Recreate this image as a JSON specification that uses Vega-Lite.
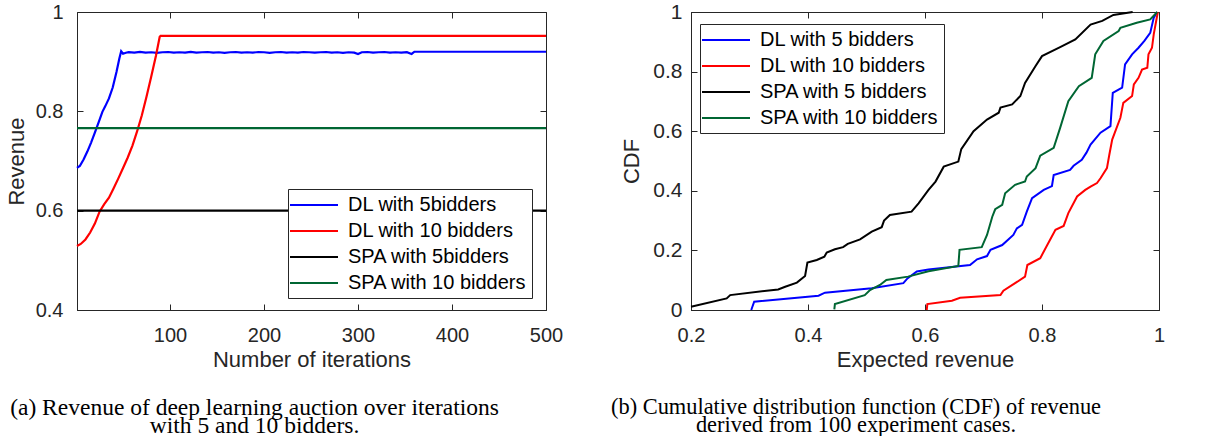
{
  "$schema": "https://vega.github.io/schema/vega-lite/v6.json",
  "background": "white",
  "padding": {"left": 4, "top": 0, "right": 5, "bottom": 0},
  "bounds": "flush",
  "spacing": 145,
  "config": {
    "view": {"stroke": "#262626", "strokeWidth": 1},
    "axis": {
      "domainColor": "#262626", "tickColor": "#262626", "labelColor": "#262626", "titleColor": "#262626",
      "labelFont": "Liberation Sans", "titleFont": "Liberation Sans", "labelFontSize": 20, "titleFontSize": 22,
      "titleFontWeight": "normal", "grid": false, "tickSize": -6, "domainWidth": 1, "tickWidth": 1, "labelFlush": false
    },
    "legend": {
      "labelFont": "Liberation Sans", "labelFontSize": 20, "labelColor": "#000000", "symbolType": "M-2.4,0L2.4,0",
      "symbolSize": 400, "symbolStrokeWidth": 2, "symbolOffset": 10, "strokeColor": "#262626", "fillColor": "white",
      "padding": 5, "rowPadding": 5, "labelOffset": 23, "orient": "none", "labelLimit": 400
    },
    "title": {"font": "Liberation Serif", "fontSize": 23.5, "fontWeight": "normal", "color": "#000000", "orient": "bottom", "lineHeight": 17.5, "anchor": "middle"}
  },
  "resolve": {"scale": {"color": "independent"}, "legend": {"color": "independent"}},
  "hconcat": [
    {
      "width": 469, "height": 298,
      "title": {"text": ["(a) Revenue of deep learning auction over iterations", "with 5 and 10 bidders."], "dx": -57, "offset": 26},
      "data": {"values": [
        {"series": "DL with 5bidders", "iteration": 1, "revenue": 0.686},
        {"series": "DL with 5bidders", "iteration": 4, "revenue": 0.690},
        {"series": "DL with 5bidders", "iteration": 8, "revenue": 0.703},
        {"series": "DL with 5bidders", "iteration": 12, "revenue": 0.719},
        {"series": "DL with 5bidders", "iteration": 16, "revenue": 0.737},
        {"series": "DL with 5bidders", "iteration": 20, "revenue": 0.757},
        {"series": "DL with 5bidders", "iteration": 24, "revenue": 0.778},
        {"series": "DL with 5bidders", "iteration": 28, "revenue": 0.799},
        {"series": "DL with 5bidders", "iteration": 31, "revenue": 0.810},
        {"series": "DL with 5bidders", "iteration": 35, "revenue": 0.826},
        {"series": "DL with 5bidders", "iteration": 39, "revenue": 0.848},
        {"series": "DL with 5bidders", "iteration": 43, "revenue": 0.879},
        {"series": "DL with 5bidders", "iteration": 46, "revenue": 0.906},
        {"series": "DL with 5bidders", "iteration": 48, "revenue": 0.921},
        {"series": "DL with 5bidders", "iteration": 50, "revenue": 0.916},
        {"series": "DL with 5bidders", "iteration": 53, "revenue": 0.918},
        {"series": "DL with 5bidders", "iteration": 56, "revenue": 0.9190},
        {"series": "DL with 5bidders", "iteration": 62, "revenue": 0.9182},
        {"series": "DL with 5bidders", "iteration": 68, "revenue": 0.9195},
        {"series": "DL with 5bidders", "iteration": 74, "revenue": 0.9182},
        {"series": "DL with 5bidders", "iteration": 80, "revenue": 0.9190},
        {"series": "DL with 5bidders", "iteration": 86, "revenue": 0.9178},
        {"series": "DL with 5bidders", "iteration": 92, "revenue": 0.9190},
        {"series": "DL with 5bidders", "iteration": 98, "revenue": 0.9195},
        {"series": "DL with 5bidders", "iteration": 104, "revenue": 0.9182},
        {"series": "DL with 5bidders", "iteration": 110, "revenue": 0.9190},
        {"series": "DL with 5bidders", "iteration": 116, "revenue": 0.9182},
        {"series": "DL with 5bidders", "iteration": 122, "revenue": 0.9195},
        {"series": "DL with 5bidders", "iteration": 128, "revenue": 0.9182},
        {"series": "DL with 5bidders", "iteration": 134, "revenue": 0.9190},
        {"series": "DL with 5bidders", "iteration": 140, "revenue": 0.9195},
        {"series": "DL with 5bidders", "iteration": 146, "revenue": 0.9182},
        {"series": "DL with 5bidders", "iteration": 152, "revenue": 0.9190},
        {"series": "DL with 5bidders", "iteration": 158, "revenue": 0.9178},
        {"series": "DL with 5bidders", "iteration": 164, "revenue": 0.9190},
        {"series": "DL with 5bidders", "iteration": 170, "revenue": 0.9195},
        {"series": "DL with 5bidders", "iteration": 176, "revenue": 0.9182},
        {"series": "DL with 5bidders", "iteration": 182, "revenue": 0.9190},
        {"series": "DL with 5bidders", "iteration": 188, "revenue": 0.9182},
        {"series": "DL with 5bidders", "iteration": 194, "revenue": 0.9195},
        {"series": "DL with 5bidders", "iteration": 200, "revenue": 0.9190},
        {"series": "DL with 5bidders", "iteration": 206, "revenue": 0.9178},
        {"series": "DL with 5bidders", "iteration": 212, "revenue": 0.9190},
        {"series": "DL with 5bidders", "iteration": 218, "revenue": 0.9195},
        {"series": "DL with 5bidders", "iteration": 224, "revenue": 0.9182},
        {"series": "DL with 5bidders", "iteration": 230, "revenue": 0.9190},
        {"series": "DL with 5bidders", "iteration": 236, "revenue": 0.9182},
        {"series": "DL with 5bidders", "iteration": 242, "revenue": 0.9195},
        {"series": "DL with 5bidders", "iteration": 248, "revenue": 0.9190},
        {"series": "DL with 5bidders", "iteration": 254, "revenue": 0.9182},
        {"series": "DL with 5bidders", "iteration": 260, "revenue": 0.9190},
        {"series": "DL with 5bidders", "iteration": 266, "revenue": 0.9195},
        {"series": "DL with 5bidders", "iteration": 272, "revenue": 0.9182},
        {"series": "DL with 5bidders", "iteration": 278, "revenue": 0.9190},
        {"series": "DL with 5bidders", "iteration": 284, "revenue": 0.9178},
        {"series": "DL with 5bidders", "iteration": 290, "revenue": 0.9190},
        {"series": "DL with 5bidders", "iteration": 296, "revenue": 0.9182},
        {"series": "DL with 5bidders", "iteration": 300, "revenue": 0.9155},
        {"series": "DL with 5bidders", "iteration": 304, "revenue": 0.9190},
        {"series": "DL with 5bidders", "iteration": 310, "revenue": 0.9195},
        {"series": "DL with 5bidders", "iteration": 316, "revenue": 0.9182},
        {"series": "DL with 5bidders", "iteration": 322, "revenue": 0.9190},
        {"series": "DL with 5bidders", "iteration": 328, "revenue": 0.9195},
        {"series": "DL with 5bidders", "iteration": 334, "revenue": 0.9182},
        {"series": "DL with 5bidders", "iteration": 340, "revenue": 0.9190},
        {"series": "DL with 5bidders", "iteration": 346, "revenue": 0.9182},
        {"series": "DL with 5bidders", "iteration": 352, "revenue": 0.9190},
        {"series": "DL with 5bidders", "iteration": 357, "revenue": 0.9155},
        {"series": "DL with 5bidders", "iteration": 360, "revenue": 0.9200},
        {"series": "DL with 5bidders", "iteration": 500, "revenue": 0.9200},
        {"series": "DL with 10 bidders", "iteration": 1, "revenue": 0.529},
        {"series": "DL with 10 bidders", "iteration": 5, "revenue": 0.533},
        {"series": "DL with 10 bidders", "iteration": 10, "revenue": 0.542},
        {"series": "DL with 10 bidders", "iteration": 15, "revenue": 0.556},
        {"series": "DL with 10 bidders", "iteration": 20, "revenue": 0.574},
        {"series": "DL with 10 bidders", "iteration": 25, "revenue": 0.598},
        {"series": "DL with 10 bidders", "iteration": 30, "revenue": 0.613},
        {"series": "DL with 10 bidders", "iteration": 35, "revenue": 0.626},
        {"series": "DL with 10 bidders", "iteration": 40, "revenue": 0.645},
        {"series": "DL with 10 bidders", "iteration": 45, "revenue": 0.665},
        {"series": "DL with 10 bidders", "iteration": 50, "revenue": 0.686},
        {"series": "DL with 10 bidders", "iteration": 55, "revenue": 0.707},
        {"series": "DL with 10 bidders", "iteration": 60, "revenue": 0.731},
        {"series": "DL with 10 bidders", "iteration": 65, "revenue": 0.760},
        {"series": "DL with 10 bidders", "iteration": 70, "revenue": 0.792},
        {"series": "DL with 10 bidders", "iteration": 75, "revenue": 0.830},
        {"series": "DL with 10 bidders", "iteration": 80, "revenue": 0.870},
        {"series": "DL with 10 bidders", "iteration": 85, "revenue": 0.912},
        {"series": "DL with 10 bidders", "iteration": 89, "revenue": 0.950},
        {"series": "DL with 10 bidders", "iteration": 90, "revenue": 0.952},
        {"series": "DL with 10 bidders", "iteration": 500, "revenue": 0.952},
        {"series": "SPA with 5bidders", "iteration": 1, "revenue": 0.6},
        {"series": "SPA with 5bidders", "iteration": 500, "revenue": 0.6},
        {"series": "SPA with 10 bidders", "iteration": 1, "revenue": 0.766},
        {"series": "SPA with 10 bidders", "iteration": 500, "revenue": 0.766}
      ]},
      "layer": [
        {
          "mark": {"type": "line", "strokeWidth": 2.2},
          "encoding": {
            "x": {"field": "iteration", "type": "quantitative", "scale": {"domain": [1, 500], "nice": false},
                  "axis": {"orient": "bottom", "values": [100, 200, 300, 400, 500], "title": "Number of iterations", "labelPadding": 21, "titlePadding": 4}},
            "y": {"field": "revenue", "type": "quantitative", "scale": {"domain": [0.4, 1], "nice": false, "zero": false},
                  "axis": {"orient": "left", "values": [0.4, 0.6, 0.8, 1], "format": "~g", "title": "Revenue", "labelPadding": 20, "titlePadding": 7}},
            "color": {"field": "series", "type": "nominal",
                      "scale": {"domain": ["DL with 5bidders", "DL with 10 bidders", "SPA with 5bidders", "SPA with 10 bidders"], "range": ["#0000ff", "#ff0000", "#000000", "#006633"]},
                      "legend": {"title": null, "legendX": 211, "legendY": 177}}
          }
        },
        {
          "mark": {"type": "point", "opacity": 0},
          "encoding": {
            "x": {"field": "iteration", "type": "quantitative", "axis": {"orient": "top", "values": [100, 200, 300, 400, 500], "labels": false, "title": null, "domain": false}},
            "y": {"field": "revenue", "type": "quantitative", "axis": {"orient": "right", "values": [0.4, 0.6, 0.8, 1], "labels": false, "title": null, "domain": false}}
          }
        }
      ],
      "resolve": {"axis": {"x": "independent", "y": "independent"}}
    },
    {
      "width": 468, "height": 298,
      "title": {"text": ["(b) Cumulative distribution function (CDF) of revenue", "derived from 100 experiment cases."], "dx": -69, "offset": 26, "fontSize": 22.4},
      "data": {"values": [
        {"series": "DL with 5 bidders", "revenue": 0.303, "cdf": 0.0},
        {"series": "DL with 5 bidders", "revenue": 0.308, "cdf": 0.028},
        {"series": "DL with 5 bidders", "revenue": 0.418, "cdf": 0.048},
        {"series": "DL with 5 bidders", "revenue": 0.429, "cdf": 0.058},
        {"series": "DL with 5 bidders", "revenue": 0.509, "cdf": 0.073},
        {"series": "DL with 5 bidders", "revenue": 0.563, "cdf": 0.090},
        {"series": "DL with 5 bidders", "revenue": 0.570, "cdf": 0.106},
        {"series": "DL with 5 bidders", "revenue": 0.586, "cdf": 0.129},
        {"series": "DL with 5 bidders", "revenue": 0.606, "cdf": 0.136},
        {"series": "DL with 5 bidders", "revenue": 0.677, "cdf": 0.151},
        {"series": "DL with 5 bidders", "revenue": 0.689, "cdf": 0.170},
        {"series": "DL with 5 bidders", "revenue": 0.706, "cdf": 0.181},
        {"series": "DL with 5 bidders", "revenue": 0.712, "cdf": 0.202},
        {"series": "DL with 5 bidders", "revenue": 0.732, "cdf": 0.218},
        {"series": "DL with 5 bidders", "revenue": 0.751, "cdf": 0.252},
        {"series": "DL with 5 bidders", "revenue": 0.757, "cdf": 0.274},
        {"series": "DL with 5 bidders", "revenue": 0.766, "cdf": 0.286},
        {"series": "DL with 5 bidders", "revenue": 0.774, "cdf": 0.330},
        {"series": "DL with 5 bidders", "revenue": 0.783, "cdf": 0.375},
        {"series": "DL with 5 bidders", "revenue": 0.803, "cdf": 0.403},
        {"series": "DL with 5 bidders", "revenue": 0.817, "cdf": 0.416},
        {"series": "DL with 5 bidders", "revenue": 0.820, "cdf": 0.453},
        {"series": "DL with 5 bidders", "revenue": 0.848, "cdf": 0.470},
        {"series": "DL with 5 bidders", "revenue": 0.854, "cdf": 0.484},
        {"series": "DL with 5 bidders", "revenue": 0.868, "cdf": 0.504},
        {"series": "DL with 5 bidders", "revenue": 0.876, "cdf": 0.528},
        {"series": "DL with 5 bidders", "revenue": 0.883, "cdf": 0.555},
        {"series": "DL with 5 bidders", "revenue": 0.900, "cdf": 0.595},
        {"series": "DL with 5 bidders", "revenue": 0.917, "cdf": 0.617},
        {"series": "DL with 5 bidders", "revenue": 0.921, "cdf": 0.729},
        {"series": "DL with 5 bidders", "revenue": 0.937, "cdf": 0.746},
        {"series": "DL with 5 bidders", "revenue": 0.942, "cdf": 0.824},
        {"series": "DL with 5 bidders", "revenue": 0.954, "cdf": 0.858},
        {"series": "DL with 5 bidders", "revenue": 0.965, "cdf": 0.880},
        {"series": "DL with 5 bidders", "revenue": 0.975, "cdf": 0.903},
        {"series": "DL with 5 bidders", "revenue": 0.985, "cdf": 0.930},
        {"series": "DL with 5 bidders", "revenue": 0.991, "cdf": 0.981},
        {"series": "DL with 5 bidders", "revenue": 0.997, "cdf": 1.0},
        {"series": "DL with 10 bidders", "revenue": 0.603, "cdf": 0.0},
        {"series": "DL with 10 bidders", "revenue": 0.604, "cdf": 0.020},
        {"series": "DL with 10 bidders", "revenue": 0.646, "cdf": 0.031},
        {"series": "DL with 10 bidders", "revenue": 0.660, "cdf": 0.041},
        {"series": "DL with 10 bidders", "revenue": 0.729, "cdf": 0.050},
        {"series": "DL with 10 bidders", "revenue": 0.734, "cdf": 0.065},
        {"series": "DL with 10 bidders", "revenue": 0.754, "cdf": 0.090},
        {"series": "DL with 10 bidders", "revenue": 0.771, "cdf": 0.112},
        {"series": "DL with 10 bidders", "revenue": 0.775, "cdf": 0.151},
        {"series": "DL with 10 bidders", "revenue": 0.797, "cdf": 0.174},
        {"series": "DL with 10 bidders", "revenue": 0.809, "cdf": 0.218},
        {"series": "DL with 10 bidders", "revenue": 0.823, "cdf": 0.269},
        {"series": "DL with 10 bidders", "revenue": 0.837, "cdf": 0.282},
        {"series": "DL with 10 bidders", "revenue": 0.845, "cdf": 0.325},
        {"series": "DL with 10 bidders", "revenue": 0.860, "cdf": 0.381},
        {"series": "DL with 10 bidders", "revenue": 0.874, "cdf": 0.403},
        {"series": "DL with 10 bidders", "revenue": 0.883, "cdf": 0.414},
        {"series": "DL with 10 bidders", "revenue": 0.894, "cdf": 0.426},
        {"series": "DL with 10 bidders", "revenue": 0.900, "cdf": 0.442},
        {"series": "DL with 10 bidders", "revenue": 0.911, "cdf": 0.476},
        {"series": "DL with 10 bidders", "revenue": 0.915, "cdf": 0.520},
        {"series": "DL with 10 bidders", "revenue": 0.920, "cdf": 0.572},
        {"series": "DL with 10 bidders", "revenue": 0.934, "cdf": 0.645},
        {"series": "DL with 10 bidders", "revenue": 0.939, "cdf": 0.695},
        {"series": "DL with 10 bidders", "revenue": 0.954, "cdf": 0.718},
        {"series": "DL with 10 bidders", "revenue": 0.957, "cdf": 0.757},
        {"series": "DL with 10 bidders", "revenue": 0.965, "cdf": 0.779},
        {"series": "DL with 10 bidders", "revenue": 0.971, "cdf": 0.807},
        {"series": "DL with 10 bidders", "revenue": 0.980, "cdf": 0.813},
        {"series": "DL with 10 bidders", "revenue": 0.982, "cdf": 0.858},
        {"series": "DL with 10 bidders", "revenue": 0.988, "cdf": 0.880},
        {"series": "DL with 10 bidders", "revenue": 0.991, "cdf": 0.925},
        {"series": "DL with 10 bidders", "revenue": 0.998, "cdf": 1.0},
        {"series": "SPA with 5 bidders", "revenue": 0.200, "cdf": 0.011},
        {"series": "SPA with 5 bidders", "revenue": 0.261, "cdf": 0.039},
        {"series": "SPA with 5 bidders", "revenue": 0.267, "cdf": 0.050},
        {"series": "SPA with 5 bidders", "revenue": 0.349, "cdf": 0.069},
        {"series": "SPA with 5 bidders", "revenue": 0.361, "cdf": 0.078},
        {"series": "SPA with 5 bidders", "revenue": 0.381, "cdf": 0.092},
        {"series": "SPA with 5 bidders", "revenue": 0.395, "cdf": 0.114},
        {"series": "SPA with 5 bidders", "revenue": 0.399, "cdf": 0.159},
        {"series": "SPA with 5 bidders", "revenue": 0.415, "cdf": 0.168},
        {"series": "SPA with 5 bidders", "revenue": 0.428, "cdf": 0.179},
        {"series": "SPA with 5 bidders", "revenue": 0.432, "cdf": 0.193},
        {"series": "SPA with 5 bidders", "revenue": 0.446, "cdf": 0.204},
        {"series": "SPA with 5 bidders", "revenue": 0.460, "cdf": 0.211},
        {"series": "SPA with 5 bidders", "revenue": 0.468, "cdf": 0.222},
        {"series": "SPA with 5 bidders", "revenue": 0.489, "cdf": 0.237},
        {"series": "SPA with 5 bidders", "revenue": 0.509, "cdf": 0.263},
        {"series": "SPA with 5 bidders", "revenue": 0.526, "cdf": 0.278},
        {"series": "SPA with 5 bidders", "revenue": 0.530, "cdf": 0.300},
        {"series": "SPA with 5 bidders", "revenue": 0.540, "cdf": 0.319},
        {"series": "SPA with 5 bidders", "revenue": 0.577, "cdf": 0.330},
        {"series": "SPA with 5 bidders", "revenue": 0.589, "cdf": 0.358},
        {"series": "SPA with 5 bidders", "revenue": 0.606, "cdf": 0.403},
        {"series": "SPA with 5 bidders", "revenue": 0.618, "cdf": 0.431},
        {"series": "SPA with 5 bidders", "revenue": 0.632, "cdf": 0.481},
        {"series": "SPA with 5 bidders", "revenue": 0.657, "cdf": 0.498},
        {"series": "SPA with 5 bidders", "revenue": 0.662, "cdf": 0.540},
        {"series": "SPA with 5 bidders", "revenue": 0.683, "cdf": 0.600},
        {"series": "SPA with 5 bidders", "revenue": 0.706, "cdf": 0.639},
        {"series": "SPA with 5 bidders", "revenue": 0.726, "cdf": 0.662},
        {"series": "SPA with 5 bidders", "revenue": 0.729, "cdf": 0.679},
        {"series": "SPA with 5 bidders", "revenue": 0.749, "cdf": 0.690},
        {"series": "SPA with 5 bidders", "revenue": 0.763, "cdf": 0.718},
        {"series": "SPA with 5 bidders", "revenue": 0.771, "cdf": 0.762},
        {"series": "SPA with 5 bidders", "revenue": 0.789, "cdf": 0.819},
        {"series": "SPA with 5 bidders", "revenue": 0.800, "cdf": 0.852},
        {"series": "SPA with 5 bidders", "revenue": 0.831, "cdf": 0.882},
        {"series": "SPA with 5 bidders", "revenue": 0.857, "cdf": 0.908},
        {"series": "SPA with 5 bidders", "revenue": 0.883, "cdf": 0.958},
        {"series": "SPA with 5 bidders", "revenue": 0.903, "cdf": 0.970},
        {"series": "SPA with 5 bidders", "revenue": 0.922, "cdf": 0.990},
        {"series": "SPA with 5 bidders", "revenue": 0.955, "cdf": 1.0},
        {"series": "SPA with 10 bidders", "revenue": 0.445, "cdf": 0.002},
        {"series": "SPA with 10 bidders", "revenue": 0.446, "cdf": 0.020},
        {"series": "SPA with 10 bidders", "revenue": 0.497, "cdf": 0.050},
        {"series": "SPA with 10 bidders", "revenue": 0.506, "cdf": 0.067},
        {"series": "SPA with 10 bidders", "revenue": 0.523, "cdf": 0.084},
        {"series": "SPA with 10 bidders", "revenue": 0.534, "cdf": 0.101},
        {"series": "SPA with 10 bidders", "revenue": 0.571, "cdf": 0.112},
        {"series": "SPA with 10 bidders", "revenue": 0.606, "cdf": 0.130},
        {"series": "SPA with 10 bidders", "revenue": 0.657, "cdf": 0.148},
        {"series": "SPA with 10 bidders", "revenue": 0.659, "cdf": 0.202},
        {"series": "SPA with 10 bidders", "revenue": 0.697, "cdf": 0.211},
        {"series": "SPA with 10 bidders", "revenue": 0.706, "cdf": 0.252},
        {"series": "SPA with 10 bidders", "revenue": 0.715, "cdf": 0.313},
        {"series": "SPA with 10 bidders", "revenue": 0.720, "cdf": 0.338},
        {"series": "SPA with 10 bidders", "revenue": 0.732, "cdf": 0.353},
        {"series": "SPA with 10 bidders", "revenue": 0.737, "cdf": 0.392},
        {"series": "SPA with 10 bidders", "revenue": 0.754, "cdf": 0.420},
        {"series": "SPA with 10 bidders", "revenue": 0.771, "cdf": 0.431},
        {"series": "SPA with 10 bidders", "revenue": 0.774, "cdf": 0.448},
        {"series": "SPA with 10 bidders", "revenue": 0.789, "cdf": 0.476},
        {"series": "SPA with 10 bidders", "revenue": 0.797, "cdf": 0.518},
        {"series": "SPA with 10 bidders", "revenue": 0.820, "cdf": 0.544},
        {"series": "SPA with 10 bidders", "revenue": 0.831, "cdf": 0.611},
        {"series": "SPA with 10 bidders", "revenue": 0.845, "cdf": 0.701},
        {"series": "SPA with 10 bidders", "revenue": 0.863, "cdf": 0.751},
        {"series": "SPA with 10 bidders", "revenue": 0.885, "cdf": 0.779},
        {"series": "SPA with 10 bidders", "revenue": 0.891, "cdf": 0.858},
        {"series": "SPA with 10 bidders", "revenue": 0.905, "cdf": 0.903},
        {"series": "SPA with 10 bidders", "revenue": 0.931, "cdf": 0.936},
        {"series": "SPA with 10 bidders", "revenue": 0.934, "cdf": 0.947},
        {"series": "SPA with 10 bidders", "revenue": 0.962, "cdf": 0.964},
        {"series": "SPA with 10 bidders", "revenue": 0.985, "cdf": 0.975},
        {"series": "SPA with 10 bidders", "revenue": 0.997, "cdf": 1.0}
      ]},
      "layer": [
        {
          "mark": {"type": "line", "strokeWidth": 2},
          "encoding": {
            "x": {"field": "revenue", "type": "quantitative", "scale": {"domain": [0.2, 1], "nice": false, "zero": false},
                  "axis": {"orient": "bottom", "values": [0.2, 0.4, 0.6, 0.8, 1], "format": "~g", "title": "Expected revenue", "labelPadding": 21, "titlePadding": 4}},
            "y": {"field": "cdf", "type": "quantitative", "scale": {"domain": [0, 1], "nice": false},
                  "axis": {"orient": "left", "values": [0, 0.2, 0.4, 0.6, 0.8, 1], "format": "~g", "title": "CDF", "labelPadding": 15, "titlePadding": 9, "labelFontSize": 21}},
            "color": {"field": "series", "type": "nominal",
                      "scale": {"domain": ["DL with 5 bidders", "DL with 10 bidders", "SPA with 5 bidders", "SPA with 10 bidders"], "range": ["#0000ff", "#ff0000", "#000000", "#006633"]},
                      "legend": {"title": null, "legendX": 9, "legendY": 12}}
          }
        },
        {
          "mark": {"type": "point", "opacity": 0},
          "encoding": {
            "x": {"field": "revenue", "type": "quantitative", "axis": {"orient": "top", "values": [0.2, 0.4, 0.6, 0.8, 1], "labels": false, "title": null, "domain": false}},
            "y": {"field": "cdf", "type": "quantitative", "axis": {"orient": "right", "values": [0, 0.2, 0.4, 0.6, 0.8, 1], "labels": false, "title": null, "domain": false}}
          }
        }
      ],
      "resolve": {"axis": {"x": "independent", "y": "independent"}}
    }
  ]
}
